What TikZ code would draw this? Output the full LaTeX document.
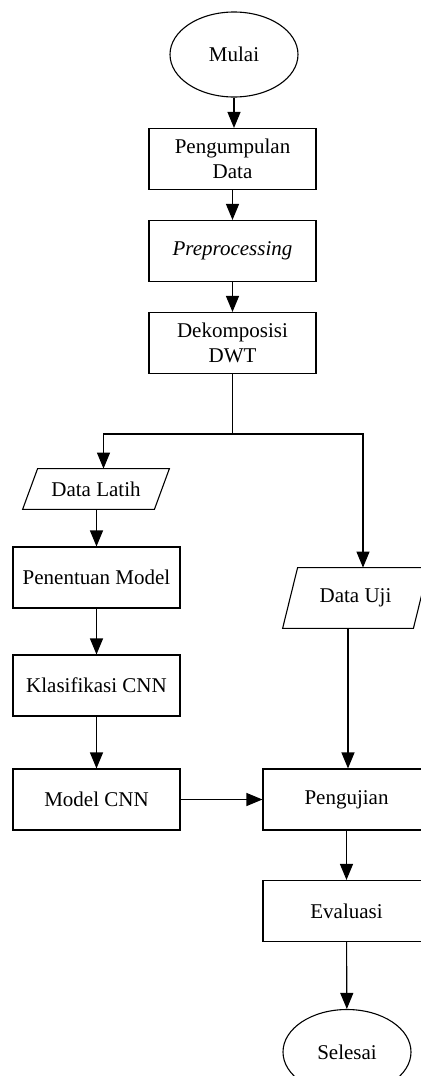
\documentclass[tikz,border=0pt]{standalone}
\usepackage{fontspec}
\setmainfont{Liberation Serif}
\usepackage{tikz}
\usetikzlibrary{positioning,arrows.meta,shapes.geometric}
\tikzset{
  term/.style={ellipse, draw=black, line width=0.55pt, minimum width=64pt, minimum height=42.5pt, inner sep=0pt},
  proc/.style={rectangle, draw=black, line width=0.55pt, minimum width=83.5pt, minimum height=30.5pt, align=center, inner sep=1pt},
  io/.style={rectangle, align=center, inner sep=1pt},
  jajar/.style={draw=black, line width=0.55pt},
  arr/.style={draw=black, line width=0.55pt, -{Triangle[length=8pt,width=6.5pt]}},
  flow/.style={x=0.5pt, y=-0.5pt, font=\fontsize{10.5}{12.5}\selectfont}
}
\newcommand{\miring}{3.75pt}

\begin{document}
\begin{tikzpicture}[flow]
        \useasboundingbox (0,0) rectangle (421,1076);
        % alur utama
        \node[term] (mulai) at (234,54.5) {Mulai};
        \node[proc] (kumpul) at (232.5,159) {Pengumpulan\\Data};
        \node[proc] (prep) at (232.5,251) {\itshape Preprocessing};
        \node[proc] (dwt) at (232.5,343) {Dekomposisi\\DWT};
        \coordinate (cabang) at (232.5,434);
        % cabang kiri: data latih
        \node[io, minimum width=65.5pt, minimum height=20pt] (latih) at (96,489) {Data Latih};
        \node[proc] (model) at (96.5,577.5) {Penentuan Model};
        \node[proc] (klas) at (96.5,685.5) {Klasifikasi CNN};
        \node[proc] (cnn) at (96.5,799.5) {Model CNN};
        % cabang kanan: data uji
        \node[io, minimum width=65pt, minimum height=30pt] (uji) at (355.5,598) {Data Uji};
        \node[proc] (uji2) at (346.5,799.5) {Pengujian};
        \node[proc] (eval) at (346.5,911) {Evaluasi};
        \node[term] (selesai) at (347,1052) {Selesai};
        % jajaran genjang input
        \foreach \n in {latih,uji}
          \draw[jajar] ([xshift=\miring]\n.north west) -- ([xshift=\miring]\n.north east)
            -- ([xshift=-\miring]\n.south east) -- ([xshift=-\miring]\n.south west) -- cycle;
        \draw[arr] (mulai) -- (mulai |- kumpul.north);
        \draw[arr] (kumpul) -- (prep);
        \draw[arr] (prep) -- (dwt);
        \draw[line width=0.55pt] (dwt.south) -- (cabang);
        \draw[arr] (cabang) -| ([xshift=\miring]latih.north);
        \draw[arr] (cabang) -| ([xshift=\miring]uji.north);
        \draw[arr] (model.north |- latih.south) -- (model.north);
        \draw[arr] (model) -- (klas);
        \draw[arr] (klas) -- (cnn);
        \draw[arr] (cnn) -- (uji2);
        \draw[arr] ([xshift=-\miring]uji.south) -- ([xshift=-\miring]uji.south |- uji2.north);
        \draw[arr] (uji2) -- (eval);
        \draw[arr] (eval) -- (selesai);
      \end{tikzpicture}
\end{document}
